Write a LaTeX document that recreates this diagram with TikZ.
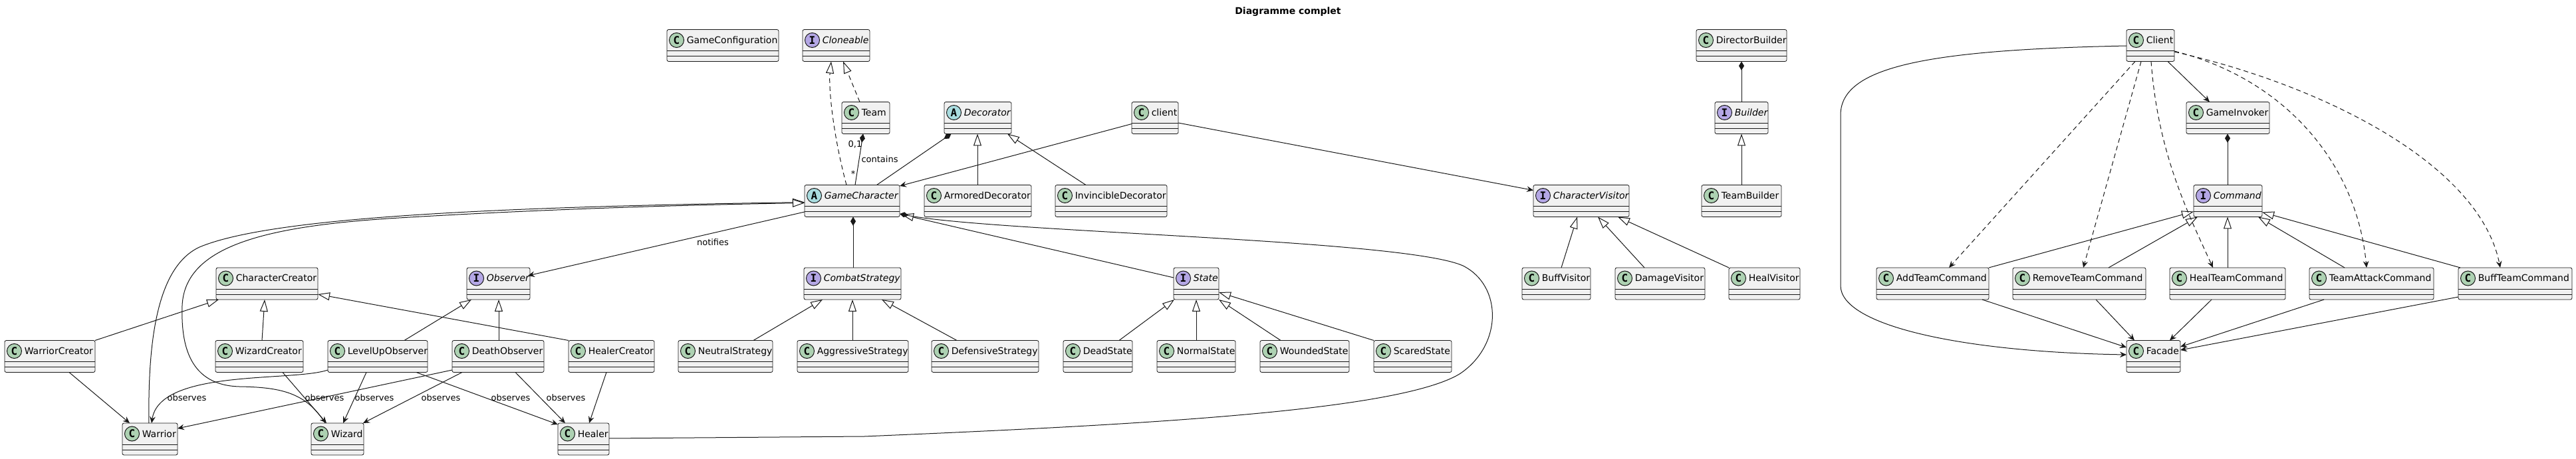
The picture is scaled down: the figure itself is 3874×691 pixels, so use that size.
\documentclass[tikz,border=0pt]{standalone}
\usepackage{fontspec}
\setmainfont{DejaVu Sans}
\newfontfamily\iconfamily{DejaVu Sans Mono}
\usetikzlibrary{arrows.meta,calc}
\definecolor{boxfill}{HTML}{F1F1F1}
\definecolor{boxline}{HTML}{181818}
\definecolor{circC}{HTML}{ADD1B2}
\definecolor{circI}{HTML}{B4A7E5}
\definecolor{circA}{HTML}{A9DCDF}
\newcommand\clsfont{\fontsize{10.5}{12.6}\selectfont}
\newcommand\lblfont{\fontsize{9.75}{11.7}\selectfont}
\newcommand\umlcls[6]{%
  \node[clsbox, minimum width=#4*0.75pt, anchor=north west] (#1) at (#2,#3) {};
  \draw[cmpline] ($(#1.north west)+(0,32)$) -- ($(#1.north east)+(0,32)$);
  \draw[cmpline] ($(#1.north west)+(0,40)$) -- ($(#1.north east)+(0,40)$);
  \node[icon, fill=circ#5] (#1-icon) at ($(#1.north west)+(14.5,16)$) {#5};
  \node[clsname] (#1-name) at ($(#1.north west)+(29.5,21)$) {#6};
}
\begin{document}
\begin{tikzpicture}[x=0.75pt,y=-0.75pt,
  clsbox/.style={draw=boxline, fill=boxfill, line width=0.6pt, rounded corners=1.9pt,
    minimum height=36pt, inner sep=0pt, outer sep=0pt, rectangle},
  cmpline/.style={draw=boxline, line width=0.6pt},
  icon/.style={circle, draw=boxline, line width=0.75pt, minimum size=16.5pt, inner sep=0pt,
    font=\iconfamily\bfseries\fontsize{12}{12}\selectfont},
  clsname/.style={anchor=base west, inner sep=0pt, font=\clsfont},
  lbl/.style={inner sep=0pt, font=\lblfont},
  edge/.style={draw=boxline, line width=0.75pt},
  dep/.style={edge, dash pattern=on 5.25pt off 3.75pt},
  inh/.style={-{Triangle[length=13.5pt,width=9pt,fill=white]}},
  comp/.style={{Diamond[length=10pt,width=6pt,fill=boxline]}-},
  assoc/.style={-{Stealth[length=7.5pt,width=6.5pt,inset=2.6pt]}}
]
\fill[white] (0,0) rectangle (3874,691);
\useasboundingbox (0,0) rectangle (3874,691);

\node[font=\bfseries\clsfont] (title) at (1937,18) {Diagramme complet};

% row 1
\umlcls{gconf}{1003}{44.5}{168}{C}{GameConfiguration}
\umlcls{clone}{1207}{44.5}{101}{I}{\itshape Cloneable}
\umlcls{dirb}{2551}{44.5}{136}{C}{DirectorBuilder}
\umlcls{ClientC}{3198}{44.5}{72}{C}{Client}
% row 2
\umlcls{team}{1266}{153.5}{72}{C}{Team}
\umlcls{deco}{1420}{153.5}{101}{A}{\itshape Decorator}
\umlcls{clientl}{1702}{153.5}{70}{C}{client}
\umlcls{builder}{2579}{153.5}{80}{I}{\itshape Builder}
\umlcls{inv}{3288}{153.5}{125}{C}{GameInvoker}
% row 3
\umlcls{gc}{1210}{278.5}{143}{A}{\itshape GameCharacter}
\umlcls{armd}{1390}{278.5}{161}{C}{ArmoredDecorator}
\umlcls{invd}{1587}{278.5}{168}{C}{InvincibleDecorator}
\umlcls{cv}{2306}{278.5}{144}{I}{\itshape CharacterVisitor}
\umlcls{tb}{2559}{278.5}{120}{C}{TeamBuilder}
\umlcls{cmd}{3299}{278.5}{103}{I}{\itshape Command}
% row 4
\umlcls{cc}{325}{403}{153}{C}{CharacterCreator}
\umlcls{obs}{702}{403}{95}{I}{\itshape Observer}
\umlcls{cs}{1209}{403}{146}{I}{\itshape CombatStrategy}
\umlcls{st}{1765}{403}{68}{I}{\itshape State}
\umlcls{bv}{2289}{403}{103}{C}{BuffVisitor}
\umlcls{dv}{2429}{403}{135}{C}{DamageVisitor}
\umlcls{hv}{2600}{403}{107}{C}{HealVisitor}
\umlcls{addc}{2822}{403}{169}{C}{AddTeamCommand}
\umlcls{remc}{3027}{403}{200}{C}{RemoveTeamCommand}
\umlcls{healc}{3263}{403}{174}{C}{HealTeamCommand}
\umlcls{attc}{3473}{403}{187}{C}{TeamAttackCommand}
\umlcls{buffc}{3697}{403}{171}{C}{BuffTeamCommand}
% row 5
\umlcls{wac}{7}{512.5}{136}{C}{WarriorCreator}
\umlcls{wic}{324}{512.5}{132}{C}{WizardCreator}
\umlcls{luo}{493}{512.5}{150}{C}{LevelUpObserver}
\umlcls{dob}{680}{512.5}{138}{C}{DeathObserver}
\umlcls{hc}{855}{512.5}{129}{C}{HealerCreator}
\umlcls{ns}{1020}{512.5}{142}{C}{NeutralStrategy}
\umlcls{ags}{1199}{512.5}{167}{C}{AggressiveStrategy}
\umlcls{dfs}{1401}{512.5}{161}{C}{DefensiveStrategy}
\umlcls{ds}{1599}{512.5}{104}{C}{DeadState}
\umlcls{nst}{1740}{512.5}{118}{C}{NormalState}
\umlcls{ws}{1895}{512.5}{134}{C}{WoundedState}
\umlcls{ss}{2066}{512.5}{117}{C}{ScaredState}
\umlcls{fac}{3198}{512.5}{81}{C}{Facade}
% row 6
\umlcls{war}{184}{637}{83}{C}{Warrior}
\umlcls{wiz}{468}{637}{79}{C}{Wizard}
\umlcls{hea}{839}{637}{77}{C}{Healer}

% ---- connectors: upper middle
\draw[dep, inh] ($(gc.north west)+(63,0)$) .. controls (1252,200) and (1246,130) .. ($(clone.north west)+(43,48)$);
\draw[dep, inh] ($(team.north west)+(27,0)$) -- ($(clone.north west)+(61,48)$);
\draw[edge, comp] ($(team.north west)+(32,48)$) -- ($(gc.north west)+(76,0)$);
\draw[edge, comp] ($(deco.north west)+(10.5,48)$) -- ($(gc.north west)+(108.5,0)$);
\draw[edge, inh] ($(armd.north west)+(80,0)$) -- ($(deco.north west)+(50,48)$);
\draw[edge, inh] ($(invd.north west)+(46,0)$) -- ($(deco.north west)+(95,48)$);
\draw[edge, assoc] ($(clientl.north west)+(0,33)$) -- ($(gc.north west)+(143,1.5)$);
\draw[edge, assoc] ($(clientl.north west)+(70,31.5)$) -- ($(cv.north west)+(0,8)$);
\draw[edge, inh] ($(bv.north west)+(59,0)$) -- ($(cv.north west)+(66,48)$);
\draw[edge, inh] ($(dv.north west)+(44,0)$) -- ($(cv.north west)+(97,48)$);
\draw[edge, inh] (hv.north west) -- ($(cv.north west)+(127,48)$);
\draw[edge, comp] ($(dirb.north west)+(68,48)$) -- ($(builder.north west)+(40,0)$);
\draw[edge, inh] ($(tb.north west)+(60,0)$) -- ($(builder.north west)+(40,48)$);

% ---- command area
\draw[edge, assoc] ($(ClientC.north west)+(62,48)$) -- ($(inv.north west)+(35,0)$);
\draw[edge, comp] ($(inv.north west)+(62,48)$) -- ($(cmd.north west)+(51,0)$);
\draw[edge, inh] ($(addc.north west)+(169,0)$) -- ($(cmd.north west)+(0,40)$);
\draw[edge, inh] ($(remc.north west)+(144,0)$) -- ($(cmd.north west)+(6,48)$);
\draw[edge, inh] ($(healc.north west)+(87,0)$) -- ($(cmd.north west)+(51,48)$);
\draw[edge, inh] ($(attc.north west)+(53,0)$) -- ($(cmd.north west)+(97,48)$);
\draw[edge, inh] ($(buffc.north west)+(3,0)$) -- ($(cmd.north west)+(103,41)$);
\draw[dep, assoc] ($(ClientC.north west)+(13,48)$) -- ($(addc.north west)+(109,0)$);
\draw[dep, assoc] ($(ClientC.north west)+(22,48)$) -- ($(remc.north west)+(106,0)$);
\draw[dep, assoc] ($(ClientC.north west)+(37,48)$) .. controls (3245,230) and (3290,320) .. ($(healc.north west)+(65,0)$);
\draw[dep, assoc] ($(ClientC.north west)+(72,32.5)$) .. controls (3440,120) and (3545,250) .. ($(attc.north west)+(86,0)$);
\draw[dep, assoc] ($(ClientC.north west)+(72,33.5)$) .. controls (3500,130) and (3730,250) .. ($(buffc.north west)+(63,0)$);
\draw[edge, assoc] ($(ClientC.north west)+(0,24.5)$) .. controls (2900,75) and (2768,100) .. (2768,173) -- (2768,430) .. controls (2768,490) and (2950,530) .. ($(fac.north west)+(0,21.5)$);
\draw[edge, assoc] ($(addc.north west)+(159,48)$) -- ($(fac.north west)+(0,10.5)$);
\draw[edge, assoc] ($(remc.north west)+(125,48)$) -- ($(fac.north west)+(12,0)$);
\draw[edge, assoc] ($(healc.north west)+(63,48)$) -- ($(fac.north west)+(65,0)$);
\draw[edge, assoc] ($(attc.north west)+(22,48)$) -- ($(fac.north west)+(81,9.5)$);
\draw[edge, assoc] ($(buffc.north west)+(0,44)$) -- ($(fac.north west)+(81,14.5)$);

% ---- game character relations
\draw[edge, assoc] ($(gc.north west)+(0,40.5)$) -- ($(obs.north west)+(92,12)$);
\draw[edge, comp] ($(gc.north west)+(73,48)$) -- ($(cs.north west)+(74,0)$);
\draw[edge, inh] ($(st.north west)+(0,15)$) -- ($(gc.north west)+(146,44.5)$);
\draw[edge, comp] ($(gc.north west)+(143,43.5)$) .. controls (1500,350) and (2110,360) .. (2200,400)
  .. controls (2260,430) and (2260,520) .. (2195,563)
  .. controls (2100,620) and (1700,640) .. (1300,657) -- ($(hea.north west)+(77,23)$);
\draw[edge, inh] ($(war.north west)+(40,0)$) .. controls (222,500) and (240,400) .. (300,372)
  .. controls (400,330) and (700,312) .. ($(gc.north west)+(0,26)$);
\draw[edge, inh] ($(wiz.north west)+(21,0)$) .. controls (460,590) and (420,583) .. (360,582)
  .. controls (285,580) and (272,520) .. (274,460)
  .. controls (278,370) and (400,340) .. (600,328)
  .. controls (800,316) and (1000,309) .. ($(gc.north west)+(0,27)$);

% ---- lower left inheritance
\draw[edge, inh] ($(wac.north west)+(136,0)$) -- ($(cc.north west)+(4,48)$);
\draw[edge, inh] ($(wic.north west)+(70,0)$) -- ($(cc.north west)+(73,48)$);
\draw[edge, inh] (hc.north west) -- ($(cc.north west)+(153,40)$);
\draw[edge, inh] ($(luo.north west)+(115,0)$) -- ($(obs.north west)+(7,48)$);
\draw[edge, inh] ($(dob.north west)+(70,0)$) -- ($(obs.north west)+(48,48)$);
\draw[edge, inh] ($(ns.north west)+(113,0)$) -- ($(cs.north west)+(28,48)$);
\draw[edge, inh] ($(ags.north west)+(83,0)$) -- ($(cs.north west)+(73,48)$);
\draw[edge, inh] ($(dfs.north west)+(38,0)$) -- ($(cs.north west)+(117,48)$);
\draw[edge, inh] ($(ds.north west)+(84,0)$) -- ($(st.north west)+(1,48)$);
\draw[edge, inh] ($(nst.north west)+(59,0)$) -- ($(st.north west)+(34,48)$);
\draw[edge, inh] ($(ws.north west)+(31,0)$) -- ($(st.north west)+(68,48)$);
\draw[edge, inh] (ss.north west) -- ($(st.north west)+(68,37)$);

% ---- creators and observers to characters
\draw[edge, assoc] ($(wac.north west)+(97,48)$) -- ($(war.north west)+(11,0)$);
\draw[edge, assoc] ($(wic.north west)+(101,48)$) -- ($(wiz.north west)+(23,0)$);
\draw[edge, assoc] ($(luo.north west)+(0,44.5)$) .. controls (440,575) and (240,555) .. ($(war.north west)+(44,0)$);
\draw[edge, assoc] ($(luo.north west)+(58,48)$) -- ($(wiz.north west)+(48,0)$);
\draw[edge, assoc] ($(luo.north west)+(133,48)$) -- ($(hea.north west)+(0,2)$);
\draw[edge, assoc] ($(dob.north west)+(0,44.5)$) -- ($(war.north west)+(83,8)$);
\draw[edge, assoc] ($(dob.north west)+(15,48)$) -- ($(wiz.north west)+(78,0)$);
\draw[edge, assoc] ($(dob.north west)+(95,48)$) -- ($(hea.north west)+(11,0)$);
\draw[edge, assoc] ($(hc.north west)+(57,48)$) -- ($(hea.north west)+(47,0)$);

% ---- labels
\node[lbl] (lnotif) at (1072,365) {notifies};
\node[lbl] (l01) at (1286,217) {0,1};
\node[lbl] (lcont) at (1323,240) {contains};
\node[lbl] (lstar) at (1283,262) {*};
\node[lbl] (lob1) at (281,599) {observes};
\node[lbl] (lob2) at (488,599) {observes};
\node[lbl] (lob3) at (563,599) {observes};
\node[lbl] (lob4) at (663,599) {observes};
\node[lbl] (lob5) at (768,599) {observes};
\node[lbl] (lob6) at (851,599) {observes};
\end{tikzpicture}
\end{document}
